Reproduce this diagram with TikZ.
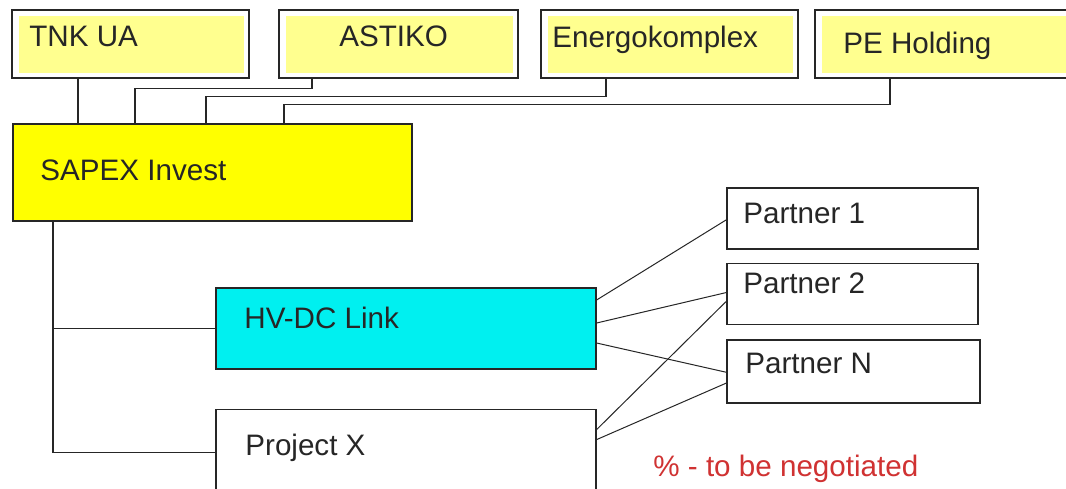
\documentclass[tikz,border=0pt]{standalone}
\usepackage{fontspec}
\setmainfont{Liberation Sans}
\usetikzlibrary{positioning}

\definecolor{ink}{HTML}{262626}
\definecolor{paleyellow}{HTML}{FFFF8F}
\definecolor{sapexyellow}{HTML}{FFFF00}
\definecolor{linkcyan}{HTML}{00F0F0}
\definecolor{noteRed}{HTML}{D03232}

\begin{document}
\begin{tikzpicture}[
    x=0.5pt, y=-0.5pt,
    topbox/.style={draw=ink, line width=0.8pt, fill=white, anchor=north west,
                   minimum height=34pt, inner sep=0pt,
                   path picture={\fill[paleyellow]
                     ([shift={(3.5pt,-3pt)}]path picture bounding box.north west) rectangle
                     ([shift={(-2.5pt,2.5pt)}]path picture bounding box.south east);}},
    box/.style={draw=ink, line width=0.8pt, anchor=north west, inner sep=0pt},
    lbl/.style={anchor=base west, inner sep=0pt, text=ink},
    link/.style={draw=ink, line width=0.8pt},
    share/.style={draw=ink, line width=0.5pt},
    font=\fontsize{14.8}{17}\selectfont
]

% Frame
\clip (0,0) rectangle (1066,488);
\fill[white] (0,0) rectangle (1066,488);

% Shareholders
\node[topbox, minimum width=118.5pt] (tnk) at (11,9) {};
\node[topbox, minimum width=119.5pt] (astiko) at (278,9) {};
\node[topbox, minimum width=128.5pt] (energo) at (540,9) {};
\node[topbox, minimum width=135pt] (pe) at (814,9) {};
\node[lbl] (tnk-t) at (29,46) {TNK UA};
\node[lbl] (astiko-t) at (339,46) {ASTIKO};
\node[lbl] (energo-t) at (552,47) {Energokomplex};
\node[lbl] (pe-t) at (843,53) {PE Holding};

% Holding
\node[box, fill=sapexyellow, minimum width=199.5pt, minimum height=48.5pt] (sapex) at (12,123) {};
\node[lbl] (sapex-t) at (40,180) {SAPEX Invest};

% Projects
\node[box, fill=linkcyan, minimum width=190pt, minimum height=40.5pt] (hvdc) at (215,287) {};
\node[box, fill=white, minimum width=190pt, minimum height=43pt,
      below=19.5pt of hvdc.south west, anchor=north west] (projx) {};
\node[lbl] (hvdc-t) at (244,328) {HV-DC Link};
\node[lbl] (projx-t) at (245,455) {Project X};

% Partners
\node[box, fill=white, minimum width=125.5pt, minimum height=30.5pt] (p1) at (726,187) {};
\node[box, fill=white, minimum width=125.5pt, minimum height=30.5pt,
      below=6.5pt of p1.south west, anchor=north west] (p2) {};
\node[box, fill=white, minimum width=126.5pt, minimum height=31.5pt,
      below=7pt of p2.south west, anchor=north west] (pn) {};
\node[lbl] (p1-t) at (743,223) {Partner 1};
\node[lbl] (p2-t) at (743,293) {Partner 2};
\node[lbl] (pn-t) at (745,373) {Partner N};

% Shareholder links
\draw[link] ([shift={(67,0)}]tnk.south west) -- ([shift={(66,0)}]sapex.north west);
\draw[link] ([shift={(34,0)}]astiko.south west) -- ++(0,10) -| ([shift={(123,0)}]sapex.north west);
\draw[link] ([shift={(66,0)}]energo.south west) -- ++(0,18) -| ([shift={(194,0)}]sapex.north west);
\draw[link] ([shift={(76,0)}]pe.south west) -- ++(0,26) -| ([shift={(272,0)}]sapex.north west);

% Project links
\draw[link] ([shift={(41,0)}]sapex.south west) |- (projx.west);
\draw[link] (hvdc.west) -| ([shift={(41,0)}]sapex.south west);

% Partner shares
\draw[share] ([shift={(0,13)}]hvdc.north east) -- ([shift={(0,33)}]p1.north west);
\draw[share] ([shift={(0,36)}]hvdc.north east) -- ([shift={(0,30)}]p2.north west);
\draw[share] ([shift={(0,56)}]hvdc.north east) -- ([shift={(0,33)}]pn.north west);
\draw[share] ([shift={(0,21)}]projx.north east) -- ([shift={(0,39)}]p2.north west);
\draw[share] ([shift={(0,31)}]projx.north east) -- ([shift={(0,44)}]pn.north west);

% Note
\node[lbl, text=noteRed] (note) at (653,476) {\% - to be negotiated};

\end{tikzpicture}
\end{document}
